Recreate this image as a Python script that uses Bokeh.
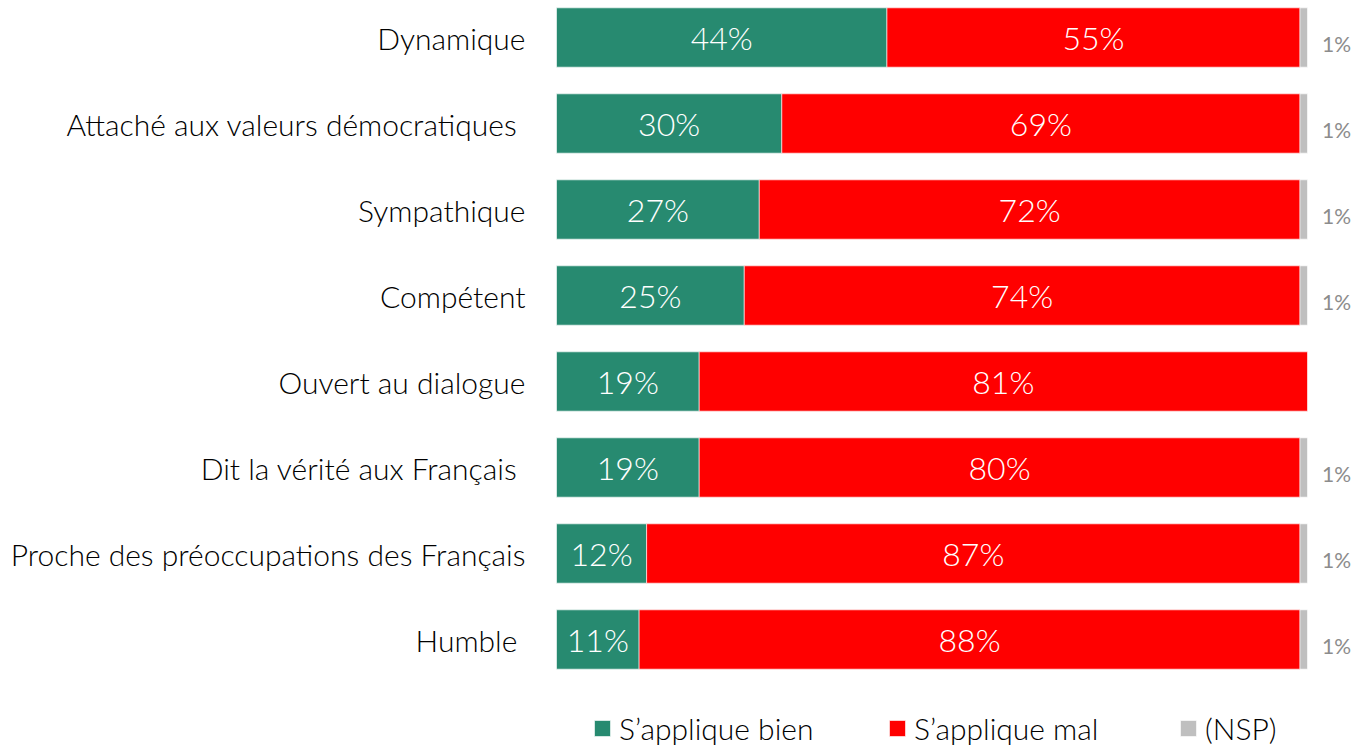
from bokeh.plotting import figure
from bokeh.models import ColumnDataSource, Range1d, Legend, LegendItem
from bokeh.core.properties import value
from bokeh.embed import file_html
from bokeh.resources import INLINE

categories = ["Dynamique", "Attaché aux valeurs démocratiques ", "Sympathique", "Compétent",
              "Ouvert au dialogue", "Dit la vérité aux Français ",
              "Proche des préoccupations des Français", "Humble "]
bien = [44, 30, 27, 25, 19, 19, 12, 11]
mal = [55, 69, 72, 74, 81, 80, 87, 88]
nsp = [1, 1, 1, 1, 0, 1, 1, 1]
series_names = ["S\u2019applique bien", "S\u2019applique mal", "(NSP)"]
colors = ["#278A70", "#FF0000", "#BFBFBF"]

FONT = "Lato Light"
W, H = 1351, 746
px_per_unit = 751 / 100.0
x0 = -556 / px_per_unit
x1 = x0 + W / px_per_unit
y_top = -37 / 86.0
y_bot = y_top + H / 86.0

idx = list(range(len(categories)))
b_left = [0] * len(idx)
b_right = bien
m_left = bien
m_right = [b + m for b, m in zip(bien, mal)]
n_left = m_right
n_right = [l + n for l, n in zip(n_left, nsp)]

src = ColumnDataSource(dict(
    y=idx, cat=categories,
    b_left=b_left, b_right=b_right, m_left=m_left, m_right=m_right,
    n_left=n_left, n_right=n_right,
    b_mid=[(l + r) / 2 for l, r in zip(b_left, b_right)],
    m_mid=[(l + r) / 2 for l, r in zip(m_left, m_right)],
    b_lab=[f"{v}%" for v in bien], m_lab=[f"{v}%" for v in mal],
))

p = figure(width=W, height=H, output_backend="svg", toolbar_location=None,
           x_range=Range1d(x0, x1), y_range=Range1d(y_bot, y_top),
           min_border=0, min_border_left=0, min_border_right=0,
           min_border_top=0, min_border_bottom=0)
p.axis.visible = False
p.grid.visible = False
p.outline_line_color = None

bh = 0.69
r_b = p.hbar(y="y", left="b_left", right="b_right", height=bh, source=src,
             fill_color=colors[0], line_color="white", line_alpha=0.6, line_width=1)
r_m = p.hbar(y="y", left="m_left", right="m_right", height=bh, source=src,
             fill_color=colors[1], line_color="white", line_alpha=0.6, line_width=1)

n_idx = [i for i in idx if nsp[i] > 0]
nsrc = ColumnDataSource(dict(
    y=n_idx, left=[n_left[i] for i in n_idx], right=[n_right[i] for i in n_idx],
    lab=[f"{nsp[i]}%" for i in n_idx],
    lx=[n_right[i] for i in n_idx],
))
r_n = p.hbar(y="y", left="left", right="right", height=bh, source=nsrc,
             fill_color=colors[2], line_color="white", line_alpha=0.6, line_width=1)

# category labels
p.text(x=0, y="y", text="cat", source=src, x_offset=-31, text_align="right",
       text_baseline="middle", text_font=value(FONT), text_font_size="30px",
       text_color="#000000")
# value labels
p.text(x="b_mid", y="y", text="b_lab", source=src, text_align="center",
       text_baseline="middle", text_font=value(FONT), text_font_size="32px",
       text_color="white")
p.text(x="m_mid", y="y", text="m_lab", source=src, text_align="center",
       text_baseline="middle", text_font=value(FONT), text_font_size="32px",
       text_color="white")
p.text(x="lx", y="y", text="lab", source=nsrc, x_offset=29, y_offset=6,
       text_align="center", text_baseline="middle", text_font=value("Lato"),
       text_font_size="21px", text_color="#8C8C8C")

renderers = [r_b, r_m, r_n]
legend_x = [592, 887, 1178]
for name, r, lx in zip(series_names, renderers, legend_x):
    lg = Legend(items=[LegendItem(label=name, renderers=[r])], location=(lx, 0),
                orientation="horizontal", glyph_width=20, glyph_height=20,
                label_standoff=7, label_text_font=FONT, label_text_font_size="30px",
                label_text_color="#000000", border_line_color=None,
                background_fill_alpha=0, padding=0, margin=0, spacing=0)
    p.add_layout(lg)

open("out.html", "w").write(file_html(p, INLINE))
